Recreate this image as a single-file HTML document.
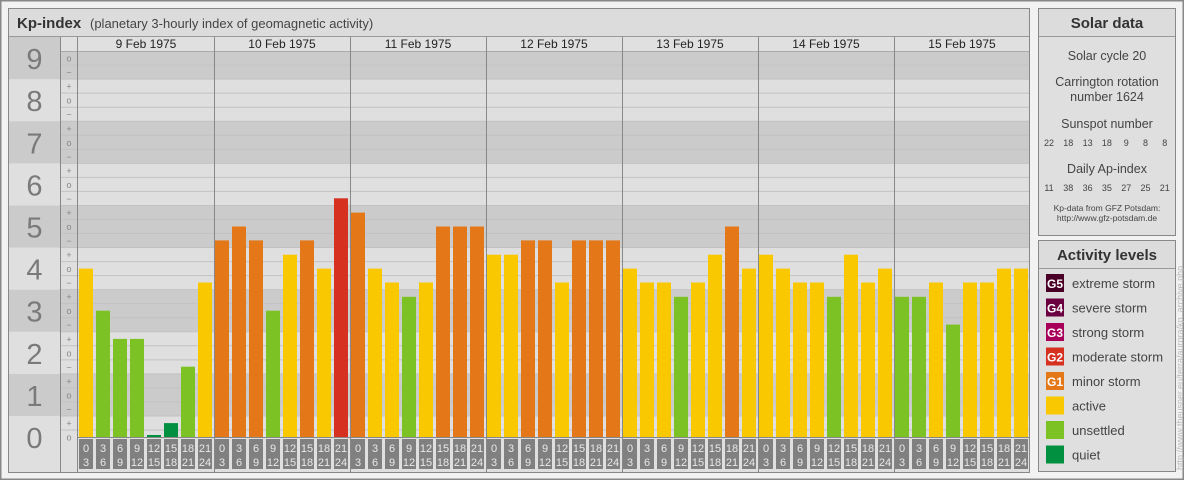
<!DOCTYPE html>
<html><head><meta charset="utf-8"><style>
body{margin:0;background:#fff;}
svg{display:block;font-family:"Liberation Sans",sans-serif;}
</style></head><body>
<svg id="svg" width="1184" height="480" xmlns="http://www.w3.org/2000/svg">
<rect x="0" y="0" width="1184" height="480" fill="#f2f2f2" stroke="#888" stroke-width="3"/>
<g id="chart">
<rect x="8.5" y="8.5" width="1021" height="464" fill="#dfdfdf" stroke="#888"/>
<rect x="9" y="9" width="1020" height="27" fill="#dcdcdc"/>
<line x1="9" y1="36.5" x2="1029" y2="36.5" stroke="#999"/>
<text x="17" y="28" font-size="15" font-weight="bold" fill="#333">Kp-index</text>
<text x="90" y="28" font-size="13" fill="#444">(planetary 3-hourly index of geomagnetic activity)</text>
<g id="bands"></g>
<g id="grid"></g>
<g id="bars"></g>
<g id="labels"></g>
</g>
<g>
<rect x="1038.5" y="8.5" width="137" height="227" fill="#dfdfdf" stroke="#888"/>
<rect x="1039" y="9" width="136" height="27" fill="#dcdcdc"/>
<line x1="1039" y1="36.5" x2="1175" y2="36.5" stroke="#999"/>
<text x="1107" y="28" font-size="15" font-weight="bold" fill="#333" text-anchor="middle">Solar data</text>
<g font-size="12.5" fill="#444" text-anchor="middle">
<text x="1107" y="60">Solar cycle 20</text>
<text x="1107" y="86">Carrington rotation</text>
<text x="1107" y="101">number 1624</text>
<text x="1107" y="128">Sunspot number</text>
<text x="1107" y="173">Daily Ap-index</text>
</g>
<g id="solarNums" font-size="9" fill="#444" text-anchor="middle"></g>
<text x="1107" y="211" font-size="8.5" fill="#444" text-anchor="middle">Kp-data from GFZ Potsdam:</text>
<text x="1107" y="221" font-size="8.5" fill="#444" text-anchor="middle">http://www.gfz-potsdam.de</text>
</g>
<g>
<rect x="1038.5" y="240.5" width="137" height="231" fill="#dfdfdf" stroke="#888"/>
<rect x="1039" y="241" width="136" height="27" fill="#dcdcdc"/>
<line x1="1039" y1="268.5" x2="1175" y2="268.5" stroke="#999"/>
<text x="1107" y="260" font-size="15" font-weight="bold" fill="#333" text-anchor="middle">Activity levels</text>
<g id="legend"></g>
</g>
<text transform="translate(1183,470) rotate(-90)" font-size="9" fill="#bbb">http://www.theusner.eu/terra/aurora/kp_archive.php</text>
</svg>
<script>
const days=["9 Feb 1975","10 Feb 1975","11 Feb 1975","12 Feb 1975","13 Feb 1975","14 Feb 1975","15 Feb 1975"];
const kpValues=[
4,3,2.33,2.33,0,0.33,1.67,3.67,
4.67,5,4.67,3,4.33,4.67,4,5.67,
5.33,4,3.67,3.33,3.67,5,5,5,
4.33,4.33,4.67,4.67,3.67,4.67,4.67,4.67,
4,3.67,3.67,3.33,3.67,4.33,5,4,
4.33,4,3.67,3.67,3.33,4.33,3.67,4,
3.33,3.33,3.67,2.67,3.67,3.67,4,4];
const sunspots=[22,18,13,18,9,8,8];
const apIndex=[11,38,36,35,27,25,21];
const hourLabels=["0","3","6","9","12","15","18","21","24"];
const legendItems=[["G5","extreme storm","#4a0026"],["G4","severe storm","#6a0040"],["G3","strong storm","#a8005a"],["G2","moderate storm","#d63020"],["G1","minor storm","#e47818"],["","active","#fac800"],["","unsettled","#7dc224"],["","quiet","#009040"]];
const NS="http://www.w3.org/2000/svg";
const X0=78,SLOT=17,DAYW=136,Y0=437,U=42.1,X1=1029;
function yOf(v){return Y0-v*U;}
function mk(tag,attrs,parent,txt){const e=document.createElementNS(NS,tag);for(const k in attrs)e.setAttribute(k,attrs[k]);if(txt!==undefined)e.textContent=txt;parent.appendChild(e);return e;}
const bands=document.getElementById('bands'),grid=document.getElementById('grid'),bars=document.getElementById('bars'),labels=document.getElementById('labels');
for(let k=0;k<=9;k++){
  const top=k==9?37:yOf(k+0.5),bot=k==0?437:yOf(k-0.5);
  const fill=k%2==1?"#cbcbcb":"#dfdfdf";
  const b=mk('rect',{x:9,y:top,width:51,height:bot-top,fill:fill},bands);
  
  
  const pt=k==9?51:top;
  mk('rect',{x:60,y:pt,width:X1-60,height:bot-pt,fill:fill},bands);
  const t=mk('text',{x:34.5,y:yOf(k)+11,'font-size':29,fill:'#7a7a7a','text-anchor':'middle'},labels,String(k));
  
  
}
for(let i=0;i<=27;i++){
  const v=i/3;
  const y=yOf(v+1/6);
  if(y>52) mk('line',{x1:60,y1:y,x2:X1,y2:y,stroke:'#c2c2c2'},grid);
  const s=["o","+","−"][i%3];
  if(i==0&&false) continue;
  mk('text',{x:69,y:yOf(v)+3.5,'font-size':9,fill:'#888','text-anchor':'middle'},labels,i%3==0?"o":(i%3==1?"+":"−"));
}
mk('rect',{x:9,y:437,width:51,height:35,fill:'#dfdfdf'},bands);
mk('rect',{x:60,y:37,width:X1-60,height:14,fill:'#e0e0e0'},bands);
mk('line',{x1:60,y1:51.5,x2:X1,y2:51.5,stroke:'#aaa'},grid);
mk('line',{x1:60.5,y1:37,x2:60.5,y2:472,stroke:'#888'},grid);
mk('line',{x1:X0-0.5,y1:37,x2:X0-0.5,y2:472,stroke:'#888'},grid);
mk('line',{x1:X0,y1:437.5,x2:X1,y2:437.5,stroke:'#888'},grid);
days.forEach((d,i)=>{
  const x=X0+i*DAYW;
  if(i>0) mk('line',{x1:x+0.5,y1:37,x2:x+0.5,y2:472,stroke:'#888'},grid);
  const t=mk('text',{x:x+DAYW/2,y:48,'font-size':12,fill:'#222','text-anchor':'middle'},labels,d);
  
  
});
function colorOf(v){if(v>=5.67)return"#d63020";if(v>=4.67)return"#e47818";if(v>=3.67)return"#fac800";if(v>=0.67)return"#7dc224";return"#009040";}
kpValues.forEach((v,i)=>{
  const x=X0+i*SLOT+1;
  const top=Math.min(yOf(v),435);
  const r=mk('rect',{x:x,y:top,width:14,height:Y0-top,fill:colorOf(v)},bars);
  
  
  const h=i%8;
  const box=mk('rect',{x:x,y:439,width:14,height:30,fill:'#808080'},labels);
  
  
  mk('text',{x:x+7,y:452,'font-size':11,fill:'#e8e8e8','text-anchor':'middle'},labels,hourLabels[h]);
  mk('text',{x:x+7,y:466,'font-size':11,fill:'#e8e8e8','text-anchor':'middle'},labels,hourLabels[h+1]);
});
const sn=document.getElementById('solarNums');
sunspots.forEach((v,i)=>{const t=mk('text',{x:1049+i*19.3,y:146},sn,String(v));});
apIndex.forEach((v,i)=>{const t=mk('text',{x:1049+i*19.3,y:191},sn,String(v));});
const lg=document.getElementById('legend');
legendItems.forEach((it,i)=>{
  const y=274+i*24.5;
  const g=mk('g',{},lg);
  
  
  mk('rect',{x:1046,y:y,width:18,height:18,fill:it[2]},g);
  if(it[0]) mk('text',{x:1055,y:y+14,'font-size':12,'font-weight':'bold',fill:'#fff','text-anchor':'middle'},g,it[0]);
  mk('text',{x:1072,y:y+14,'font-size':13,fill:'#444'},g,it[1]);
});
</script>
</body></html>
